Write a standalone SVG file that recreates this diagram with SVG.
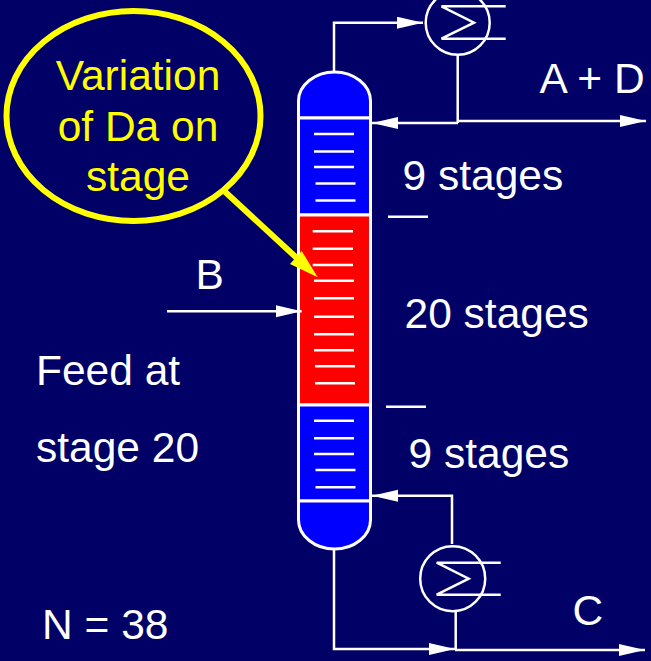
<svg xmlns="http://www.w3.org/2000/svg" width="651" height="661" viewBox="0 0 651 661">
<style>
.t{font-family:"Liberation Sans",Arial,sans-serif;font-size:42.500px;fill:#fff}
.y{fill:#ff0;text-anchor:middle}
.l{fill:none;stroke:#fff;stroke-width:2.500}
.s{fill:#00f;stroke:#fff;stroke-width:3}
.r{fill:#f00;stroke:#fff;stroke-width:3}
.tray{stroke:#fff;stroke-width:2.500;fill:none}
</style>
<defs>
<marker id="a" markerUnits="userSpaceOnUse" markerWidth="27" markerHeight="13" refX="26" refY="6" orient="auto"><path d="M0 0L26 6L0 12Z" fill="#fff"/></marker>
</defs>
<rect width="651" height="661" fill="#000066"/>
<g id="column">
<path class="s" d="M298.500 118V101C298.500 85 315 72 334.500 72C354 72 370.500 85 370.500 101V118Z"/>
<rect class="s" x="298.500" y="118" width="72" height="97"/>
<rect class="r" x="298.500" y="215" width="72" height="190"/>
<rect class="s" x="298.500" y="405" width="72" height="96"/>
<path class="s" d="M298.500 501V520C298.500 536 315 549 334.500 549C354 549 370.500 536 370.500 520V501Z"/>
<path class="tray" d="M314 134H354M314 151.500H354M314 167H354M315.500 183.500H355.500M315.500 200.500H355.500"/>
<path class="tray" d="M312.700 231.300H353M312.700 248.700H353M312.700 265H353M314 280.700H354M314 298.300H354M314 316.700H354M314 334.300H354M314 350.300H354M315 366.300H355M315 383.300H355"/>
<path class="tray" d="M314 420.700H354M314 438.300H354M314 454H354M315.500 470H355.500M315.500 487.300H355.500"/>
</g>
<g id="condenser">
<circle class="l" cx="457.700" cy="22.700" r="32"/>
<path class="l" d="M505.700 6.300H441.500L474 22.700L441.500 38.700H505.700"/>
</g>
<g id="reboiler">
<circle class="l" cx="452.700" cy="578.700" r="32.500"/>
<path class="l" d="M500.700 562.700H436.700L468.700 578.700L436.700 594.700H500.700"/>
</g>
<g id="connectors">
<path class="l" marker-end="url(#a)" d="M334 72V22.700H423"/>
<path class="l" d="M457.700 55V123"/>
<path class="l" marker-end="url(#a)" d="M458 123H372"/>
<path class="l" marker-end="url(#a)" d="M458 121H646"/>
<path class="l" marker-end="url(#a)" d="M334 549V649H455"/>
<path class="l" marker-end="url(#a)" d="M455 650H645"/>
<path class="l" d="M455.700 611V650"/>
<path class="l" marker-end="url(#a)" d="M452 544V495.700H372"/>
<path class="l" marker-end="url(#a)" d="M167 311.300H301.700"/>
<path class="l" d="M388 216.700H428M386 406.700H426"/>
<path fill="none" stroke="#ff0" stroke-width="6" d="M225 191.700L300 261"/>
<path fill="#ff0" d="M317.700 277.300L290 264L301.700 251Z"/>
</g>
<g id="callout">
<ellipse cx="133.500" cy="116" rx="127" ry="105" fill="#000066" stroke="#ff0" stroke-width="6"/>
<text class="t y" x="138" y="90">Variation</text>
<text class="t y" x="138" y="140.700">of Da on</text>
<text class="t y" x="138" y="191">stage</text>
</g>
<g id="labels">
<text class="t" x="539.500" y="92.700">A + D</text>
<text class="t" x="402.500" y="190">9 stages</text>
<text class="t" x="404.500" y="328">20 stages</text>
<text class="t" x="408.500" y="468">9 stages</text>
<text class="t" x="195.500" y="289">B</text>
<text class="t" x="36" y="385">Feed at</text>
<text class="t" x="36" y="462">stage 20</text>
<text class="t" x="42" y="639">N = 38</text>
<text class="t" x="572.500" y="625">C</text>
</g>
</svg>
